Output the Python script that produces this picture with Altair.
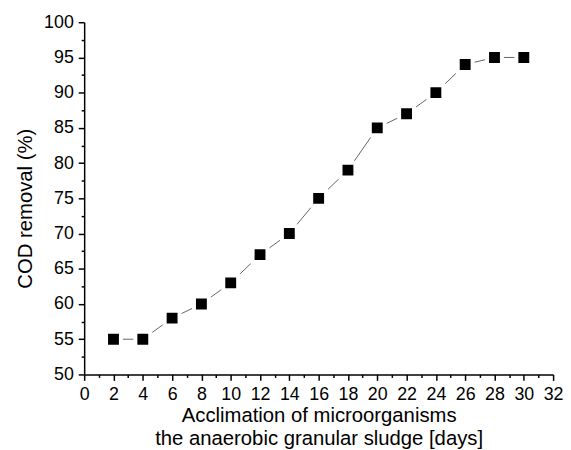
import altair as alt
import pandas as pd

days = [2, 4, 6, 8, 10, 12, 14, 16, 18, 20, 22, 24, 26, 28, 30]
removal = [55, 55, 58, 60, 63, 67, 70, 75, 79, 85, 87, 90, 94, 95, 95]
x_ticks = list(range(0, 33))
y_ticks = [50 + 2.5 * i for i in range(21)]

df = pd.DataFrame({"day": days, "cod": removal})

FONT = "Liberation Sans"

axis_common = dict(
    labelOverlap=False,
    labelFlush=False,
    grid=False,
    domainColor="#000000",
    domainWidth=1.5,
    tickColor="#000000",
    tickWidth=1.5,
    labelFont=FONT,
    labelFontSize=18,
    labelColor="#000000",
    titleFont=FONT,
    titleFontSize=20.5,
    titleFontWeight="normal",
    titleColor="#000000",
    titleLineHeight=23,
)

x_enc = alt.X(
    "day:Q",
    scale=alt.Scale(domain=[0, 32], nice=False, zero=False),
    axis=alt.Axis(
        title=["Acclimation of microorganisms", "the anaerobic granular sludge [days]"],
        values=x_ticks,
        labelExpr="datum.value % 2 == 0 ? datum.label : ''",
        tickSize={"condition": {"test": "datum.value % 2 == 0", "value": 6}, "value": 3},
        labelPadding=5,
        titlePadding=3,
        **axis_common,
    ),
)
y_enc = alt.Y(
    "cod:Q",
    scale=alt.Scale(domain=[50, 100], nice=False, zero=False),
    axis=alt.Axis(
        title="COD removal (%)",
        values=y_ticks,
        labelExpr="datum.value % 5 == 0 ? datum.label : ''",
        tickSize={"condition": {"test": "datum.value % 5 == 0", "value": 6}, "value": 3},
        labelPadding=5,
        titlePadding=8,
        titleY=188,
        **axis_common,
    ),
)

line = alt.Chart(df).mark_line(color="#666666", strokeWidth=1).encode(x=x_enc, y=y_enc)
pts = alt.Chart(df).mark_point(
    shape="square", filled=True, fill="#000000", stroke="#ffffff", strokeWidth=4,
    size=225, opacity=1
).encode(x=x_enc, y=y_enc)

chart = (
    alt.layer(line, pts)
    .properties(
        width=474,
        height=356,
        autosize=alt.AutoSizeParams(type="none"),
        padding={"left": 77, "top": 12, "right": 10, "bottom": 74},
    )
    .configure_view(stroke=None)
)

chart.save("out.html", embed_options={"renderer": "svg", "actions": False})
